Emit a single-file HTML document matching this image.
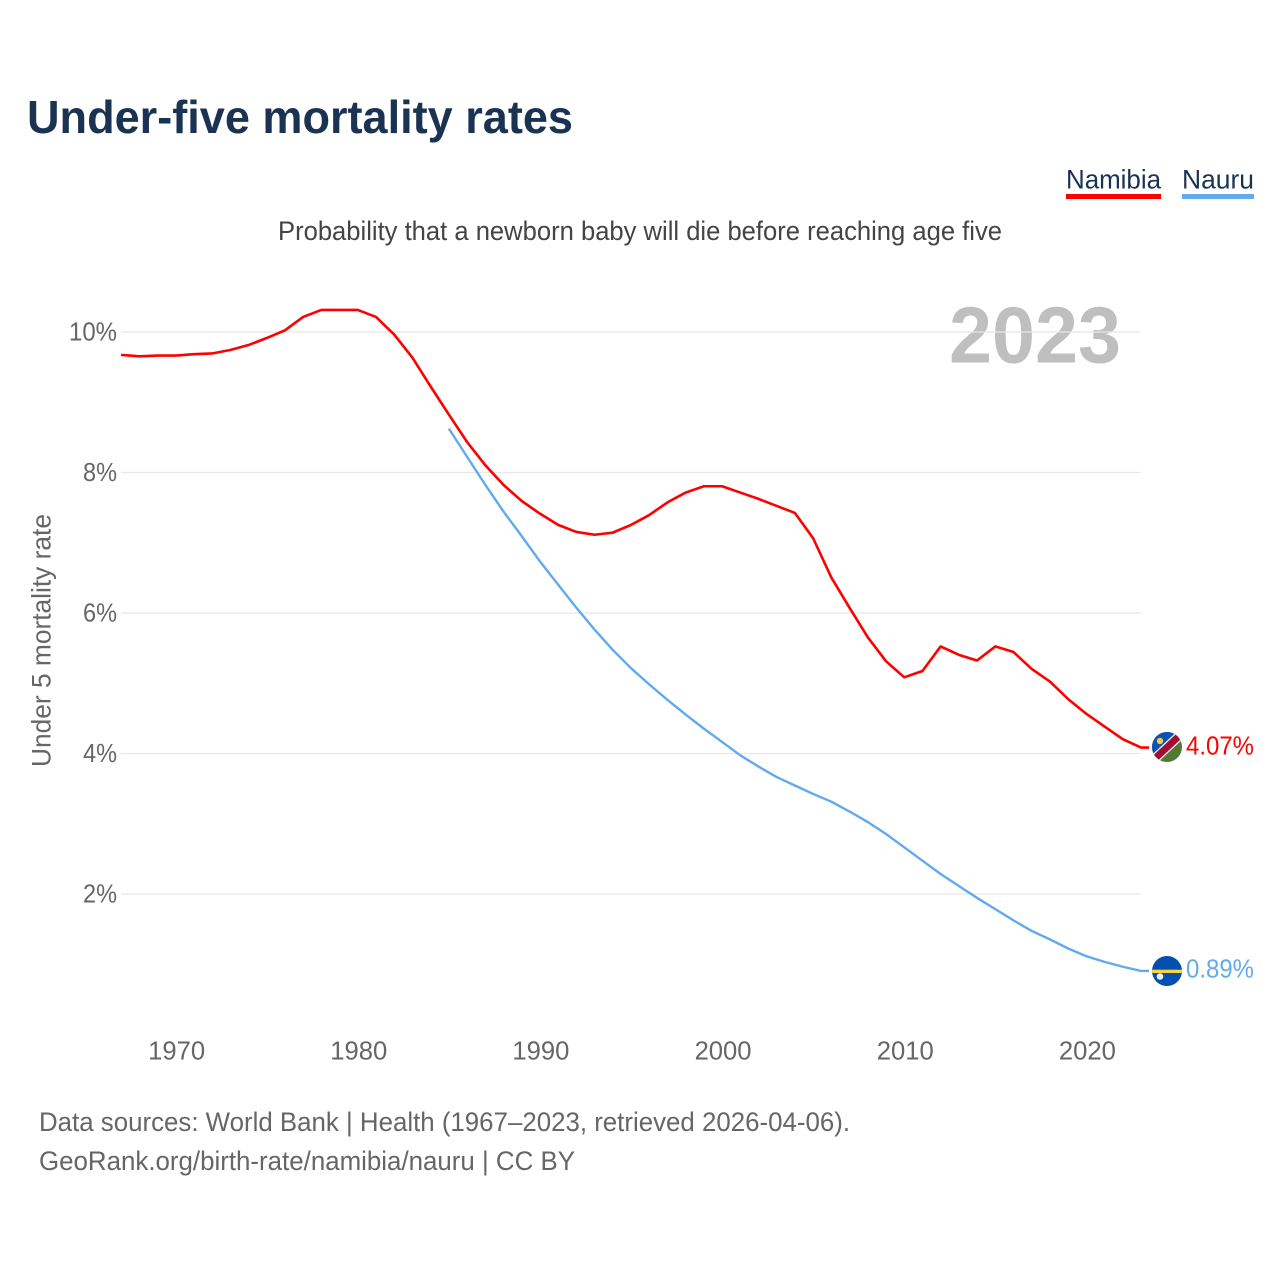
<!DOCTYPE html>
<html lang="en">
<head>
<meta charset="utf-8">
<title>Under-five mortality rates</title>
<style>
html,body{margin:0;padding:0;background:#fff;width:1280px;height:1280px;overflow:hidden}
svg{display:block;font-family:"Liberation Sans",sans-serif}
</style>
</head>
<body>
<svg id="chart" xmlns="http://www.w3.org/2000/svg" width="1280" height="1280" viewBox="0 0 1280 1280">
<defs>
<clipPath id="clip-na"><circle cx="1167" cy="747" r="15"/></clipPath>
<clipPath id="clip-nr"><circle cx="1167" cy="971" r="15"/></clipPath>
</defs>
<text x="27" y="133" font-size="46" font-weight="700" fill="#1a3352" textLength="546" lengthAdjust="spacingAndGlyphs">Under-five mortality rates</text>
<text x="1066" y="188.5" font-size="26.5" fill="#1a3352" textLength="95" lengthAdjust="spacingAndGlyphs">Namibia</text>
<rect x="1066" y="194" width="95" height="5" fill="#ff0000"/>
<text x="1182" y="188.5" font-size="26.5" fill="#1a3352" textLength="72" lengthAdjust="spacingAndGlyphs">Nauru</text>
<rect x="1182" y="194" width="72" height="5" fill="#63a9ee"/>
<text x="278" y="240" font-size="26.5" fill="#444444" textLength="724" lengthAdjust="spacingAndGlyphs">Probability that a newborn baby will die before reaching age five</text>
<text x="949" y="362.5" font-size="80" font-weight="700" fill="#bfbfbf" textLength="172" lengthAdjust="spacingAndGlyphs">2023</text>
<g id="grid"></g>
<g id="y-ticks"></g>
<g id="x-ticks"></g>
<text transform="translate(50.5,767) rotate(-90)" x="0" y="0" font-size="26.5" fill="#666666" textLength="253" lengthAdjust="spacingAndGlyphs">Under 5 mortality rate</text>
<g id="lines"></g>
<g clip-path="url(#clip-na)">
<rect x="1152" y="732" width="30" height="30" fill="#4f7a32"/>
<polygon points="1146,768 1186,728 1146,728" fill="#0a52b5"/>
<rect x="1142" y="742.4" width="50" height="9.6" fill="#f4f4f4" transform="rotate(-43 1167 747)"/>
<rect x="1142" y="743.7" width="50" height="7" fill="#a10d31" transform="rotate(-43 1167 747)"/>
<circle cx="1160" cy="741" r="3.2" fill="#f6c945"/>
</g>
<g clip-path="url(#clip-nr)">
<rect x="1152" y="956" width="30" height="30" fill="#034fb0"/>
<rect x="1152" y="969.7" width="30" height="3.3" fill="#fbd33e"/>
<circle cx="1160" cy="976.5" r="3.3" fill="#e8eef5"/>
</g>
<text x="1186" y="754.5" font-size="26" fill="#ff0000" textLength="68" lengthAdjust="spacingAndGlyphs">4.07%</text>
<text x="1186" y="977.5" font-size="26" fill="#63a9ee" textLength="68" lengthAdjust="spacingAndGlyphs">0.89%</text>
<text x="39" y="1131" font-size="26.5" fill="#666666" textLength="811" lengthAdjust="spacingAndGlyphs">Data sources: World Bank | Health (1967–2023, retrieved 2026-04-06).</text>
<text x="39" y="1170" font-size="26.5" fill="#666666" textLength="536" lengthAdjust="spacingAndGlyphs">GeoRank.org/birth-rate/namibia/nauru | CC BY</text>
</svg>
<script>
const namibiaYears = [1967,1968,1969,1970,1971,1972,1973,1974,1975,1976,1977,1978,1979,1980,1981,1982,1983,1984,1985,1986,1987,1988,1989,1990,1991,1992,1993,1994,1995,1996,1997,1998,1999,2000,2001,2002,2003,2004,2005,2006,2007,2008,2009,2010,2011,2012,2013,2014,2015,2016,2017,2018,2019,2020,2021,2022,2023];
const namibiaValues = [9.66,9.64,9.65,9.65,9.67,9.68,9.73,9.80,9.90,10.01,10.20,10.30,10.30,10.30,10.20,9.95,9.62,9.21,8.81,8.42,8.09,7.81,7.58,7.40,7.24,7.14,7.10,7.13,7.24,7.38,7.56,7.70,7.79,7.79,7.70,7.61,7.51,7.41,7.05,6.49,6.06,5.64,5.30,5.07,5.16,5.51,5.39,5.31,5.51,5.43,5.19,5.01,4.76,4.55,4.37,4.19,4.07];
const nauruYears = [1985,1986,1987,1988,1989,1990,1991,1992,1993,1994,1995,1996,1997,1998,1999,2000,2001,2002,2003,2004,2005,2006,2007,2008,2009,2010,2011,2012,2013,2014,2015,2016,2017,2018,2019,2020,2021,2022,2023];
const nauruValues = [8.61,8.21,7.81,7.43,7.08,6.72,6.39,6.06,5.75,5.46,5.20,4.97,4.75,4.54,4.34,4.15,3.96,3.80,3.65,3.53,3.41,3.30,3.16,3.01,2.84,2.65,2.46,2.27,2.10,1.93,1.77,1.61,1.46,1.34,1.21,1.10,1.02,0.95,0.89];
const yTickValues = [2,4,6,8,10];
const xTickValues = [1970,1980,1990,2000,2010,2020];

const SVG_NS = 'http://www.w3.org/2000/svg';
const xScale = function (year) { return 121 + (year - 1967) * (1141 - 121) / 56; };
const yScale = function (value) { return 893 - (value - 2) * 70.25; };
const GRID_NUDGE = 1;

const gridGroup = document.getElementById('grid');
const yTickGroup = document.getElementById('y-ticks');
const xTickGroup = document.getElementById('x-ticks');
const lineGroup = document.getElementById('lines');

yTickValues.forEach(function (value) {
  const line = document.createElementNS(SVG_NS, 'line');
  
  
  line.setAttribute('x1', 121);
  line.setAttribute('x2', 1141);
  line.setAttribute('y1', yScale(value) + GRID_NUDGE);
  line.setAttribute('y2', yScale(value) + GRID_NUDGE);
  line.setAttribute('stroke', '#e8e8e8');
  line.setAttribute('stroke-width', '1.2');
  gridGroup.appendChild(line);

  const label = document.createElementNS(SVG_NS, 'text');
  
  
  label.setAttribute('x', 117);
  label.setAttribute('y', yScale(value) + GRID_NUDGE + 8.5);
  label.setAttribute('text-anchor', 'end');
  label.setAttribute('font-size', '26');
  label.setAttribute('fill', '#666666');
  label.setAttribute('textLength', value >= 10 ? '48' : '34');
  label.setAttribute('lengthAdjust', 'spacingAndGlyphs');
  label.textContent = value + '%';
  yTickGroup.appendChild(label);
});

xTickValues.forEach(function (year) {
  const label = document.createElementNS(SVG_NS, 'text');
  
  
  label.setAttribute('x', xScale(year) + 1);
  label.setAttribute('y', 1059.5);
  label.setAttribute('text-anchor', 'middle');
  label.setAttribute('font-size', '26');
  label.setAttribute('fill', '#666666');
  label.setAttribute('textLength', '57');
  label.setAttribute('lengthAdjust', 'spacingAndGlyphs');
  label.textContent = year;
  xTickGroup.appendChild(label);
});

function pathFor(years, values) {
  let d = years.map(function (year, i) {
    return (i ? 'L' : 'M') + xScale(year).toFixed(2) + ',' + yScale(values[i]).toFixed(2);
  }).join(' ');
  d += ' L' + (xScale(years[years.length - 1]) + 8).toFixed(2) + ',' + yScale(values[values.length - 1]).toFixed(2);
  return d;
}

const nauruLine = document.createElementNS(SVG_NS, 'path');


nauruLine.setAttribute('d', pathFor(nauruYears, nauruValues));
nauruLine.setAttribute('fill', 'none');
nauruLine.setAttribute('stroke', '#63a9ee');
nauruLine.setAttribute('stroke-width', '2.4');
nauruLine.setAttribute('stroke-linejoin', 'round');
lineGroup.appendChild(nauruLine);

const namibiaLine = document.createElementNS(SVG_NS, 'path');


namibiaLine.setAttribute('d', pathFor(namibiaYears, namibiaValues));
namibiaLine.setAttribute('fill', 'none');
namibiaLine.setAttribute('stroke', '#ff0000');
namibiaLine.setAttribute('stroke-width', '2.6');
namibiaLine.setAttribute('stroke-linejoin', 'round');
lineGroup.appendChild(namibiaLine);
</script>
</body>
</html>
